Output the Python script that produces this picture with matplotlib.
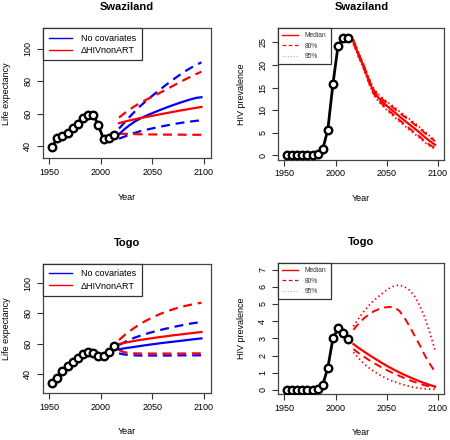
import matplotlib
matplotlib.use("Agg")
import matplotlib.pyplot as plt
from matplotlib.lines import Line2D

plt.rcParams['font.family'] = ['Liberation Sans', 'DejaVu Sans']

# ---------------- data ----------------
obs_years = [1952.5, 1957.5, 1962.5, 1967.5, 1972.5, 1977.5, 1982.5, 1987.5,
             1992.5, 1997.5, 2002.5, 2007.5, 2012.5]
proj_years = [2017.5, 2022.5, 2027.5, 2032.5, 2037.5, 2042.5, 2047.5, 2052.5,
              2057.5, 2062.5, 2067.5, 2072.5, 2077.5, 2082.5, 2087.5, 2092.5, 2097.5]

# Swaziland life expectancy
swz_le_obs = [39.4, 45.2, 46.6, 48.2, 51.3, 54.0, 57.5, 59.6, 59.6, 53.0, 44.5, 45.4, 47.0]
swz_nocov_med = [47.5, 50.5, 53.0, 55.2, 57.0, 58.5, 59.9, 61.2, 62.5, 63.7, 64.9, 66.0, 67.1, 68.1, 69.1, 69.9, 70.3]
swz_nocov_hi = [51.0, 54.5, 58.0, 61.3, 64.5, 67.3, 70.0, 72.6, 75.1, 77.6, 80.0, 82.3, 84.5, 86.6, 88.5, 90.2, 91.8]
swz_nocov_lo = [44.8, 46.0, 47.2, 48.3, 49.3, 50.1, 50.8, 51.5, 52.2, 52.8, 53.4, 54.0, 54.5, 55.0, 55.4, 55.8, 56.1]
swz_hiv_med = [54.4, 55.2, 56.0, 56.7, 57.4, 58.0, 58.6, 59.2, 59.8, 60.4, 61.0, 61.6, 62.2, 62.7, 63.3, 63.8, 64.3]
swz_hiv_hi = [57.8, 60.3, 62.6, 64.7, 66.6, 68.3, 69.9, 71.5, 73.1, 74.8, 76.5, 78.2, 79.9, 81.5, 83.1, 84.6, 86.0]
swz_hiv_lo = [47.9, 47.8, 47.7, 47.6, 47.5, 47.5, 47.4, 47.4, 47.4, 47.3, 47.3, 47.3, 47.3, 47.2, 47.2, 47.2, 47.2]

# Togo life expectancy
tgo_le_obs = [34.5, 37.4, 42.0, 45.3, 48.2, 50.8, 53.0, 54.3, 53.9, 51.7, 52.1, 54.4, 58.7]
tgo_nocov_med = [56.4, 57.0, 57.5, 58.0, 58.5, 59.0, 59.5, 59.9, 60.4, 60.8, 61.2, 61.6, 62.0, 62.4, 62.8, 63.2, 63.6]
tgo_nocov_hi = [59.2, 61.0, 62.6, 64.0, 65.2, 66.3, 67.3, 68.2, 69.1, 69.9, 70.7, 71.4, 72.1, 72.8, 73.4, 73.9, 74.3]
tgo_nocov_lo = [53.7, 53.0, 52.6, 52.4, 52.3, 52.3, 52.3, 52.3, 52.3, 52.3, 52.3, 52.4, 52.4, 52.4, 52.4, 52.4, 52.5]
tgo_hiv_med = [59.9, 60.6, 61.3, 61.9, 62.5, 63.0, 63.5, 64.0, 64.5, 64.9, 65.4, 65.8, 66.2, 66.6, 67.0, 67.4, 67.8]
tgo_hiv_hi = [62.5, 65.5, 68.2, 70.6, 72.8, 74.8, 76.6, 78.2, 79.7, 81.0, 82.2, 83.3, 84.2, 85.1, 85.8, 86.5, 87.1]
tgo_hiv_lo = [55.9, 54.5, 53.9, 53.7, 53.6, 53.6, 53.6, 53.6, 53.6, 53.6, 53.6, 53.6, 53.6, 53.6, 53.7, 53.7, 53.7]

# Swaziland HIV prevalence
swz_prev_obs = [0.0, 0.0, 0.0, 0.0, 0.0, 0.0, 0.37, 1.3, 5.7, 15.8, 24.3, 25.9, 26.0]
swz_prev_med = [25.2, 22.3, 19.7, 16.6, 14.0, 12.6, 11.5, 10.5, 9.6, 8.6, 7.7, 6.8, 5.9, 5.0, 4.0, 3.1, 2.3]
swz_prev_80hi = [25.5, 22.6, 20.0, 16.95, 14.4, 13.1, 12.1, 11.2, 10.35, 9.4, 8.55, 7.7, 6.8, 5.9, 4.9, 3.95, 3.1]
swz_prev_80lo = [24.9, 22.0, 19.4, 16.25, 13.6, 12.1, 10.9, 9.8, 8.85, 7.8, 6.85, 5.9, 5.0, 4.1, 3.1, 2.25, 1.6]
swz_prev_95hi = [25.7, 22.8, 20.2, 17.2, 14.7, 13.4, 12.4, 11.5, 10.7, 9.7, 8.85, 8.0, 7.1, 6.2, 5.2, 4.2, 3.4]
swz_prev_95lo = [24.7, 21.8, 19.2, 16.0, 13.3, 11.8, 10.6, 9.5, 8.5, 7.5, 6.55, 5.6, 4.7, 3.8, 2.8, 2.0, 1.4]

# Togo HIV prevalence
tgo_prev_obs = [0.0, 0.0, 0.0, 0.0, 0.0, 0.0, 0.05, 0.3, 1.3, 3.0, 3.58, 3.3, 2.96]
tgo_prev_med = [2.67, 2.45, 2.25, 2.05, 1.86, 1.68, 1.5, 1.33, 1.17, 1.02, 0.88, 0.75, 0.62, 0.5, 0.39, 0.29, 0.2]
tgo_prev_80hi = [3.5, 3.85, 4.15, 4.38, 4.57, 4.7, 4.79, 4.83, 4.8, 4.6, 4.2, 3.7, 3.15, 2.6, 2.0, 1.5, 1.05]
tgo_prev_80lo = [2.38, 2.15, 1.95, 1.75, 1.57, 1.4, 1.24, 1.09, 0.95, 0.82, 0.69, 0.57, 0.46, 0.36, 0.27, 0.2, 0.14]
tgo_prev_95hi = [3.7, 4.15, 4.55, 4.9, 5.2, 5.45, 5.7, 5.9, 6.05, 6.1, 6.0, 5.8, 5.45, 4.9, 4.2, 3.3, 2.3]
tgo_prev_95lo = [2.2, 1.85, 1.55, 1.3, 1.08, 0.9, 0.74, 0.6, 0.48, 0.38, 0.29, 0.21, 0.15, 0.1, 0.07, 0.05, 0.04]

le_ticks = [40, 60, 80, 100]
x_ticks = [1950, 2000, 2050, 2100]
swz_prev_ticks = [0, 5, 10, 15, 20, 25]
tgo_prev_ticks = [0, 1, 2, 3, 4, 5, 6, 7]

# ---------------- style ----------------
BLUE = '#0000FF'
RED = '#FF0000'
FS = 6.5
LW = 1.6
DASH = (4.0, 2.6)
DOT = (0.8, 1.6)

fig = plt.figure(figsize=(4.5, 4.4), dpi=100)
W, H = 450.0, 440.0


def make_ax(left, top, right, bottom):
    return fig.add_axes([left / W, 1 - bottom / H, (right - left) / W, (bottom - top) / H])


def style(ax, title, ylabel, yticks, xlim, ylim):
    ax.set_xlim(*xlim)
    ax.set_ylim(*ylim)
    ax.set_xticks(x_ticks)
    ax.set_yticks(yticks)
    ax.set_yticklabels([str(t) for t in yticks], rotation=90, va='center')
    ax.tick_params(direction='out', length=4, width=0.8, labelsize=FS, color='#333333', pad=3)
    ax.tick_params(axis='y', pad=4)
    for s in ax.spines.values():
        s.set_color('#444444')
        s.set_linewidth(0.9)
    ax.set_title(title, fontsize=8, fontweight='bold', pad=13)
    ax.set_xlabel('Year', fontsize=FS, labelpad=11)
    ax.set_ylabel(ylabel, fontsize=FS, labelpad=9)


def obs(ax, x, y):
    ax.plot(x, y, color='black', lw=2.0, zorder=3)
    ax.plot(x, y, linestyle='none', marker='o', markersize=5.4, markerfacecolor='white',
            markeredgecolor='black', markeredgewidth=1.7, zorder=4)


def le_panel(ax, title, obs_y, nm, nh, nl, hm, hh, hl, ylim):
    obs(ax, obs_years, obs_y)
    ax.plot(proj_years, nh, color=BLUE, lw=LW, dashes=DASH)
    ax.plot(proj_years, nl, color=BLUE, lw=LW, dashes=DASH)
    ax.plot(proj_years, hh, color=RED, lw=LW, dashes=DASH)
    ax.plot(proj_years, hl, color=RED, lw=LW, dashes=DASH)
    ax.plot(proj_years, nm, color=BLUE, lw=LW)
    ax.plot(proj_years, hm, color=RED, lw=LW)
    style(ax, title, 'Life expectancy', le_ticks, (1944, 2106.5), ylim)
    handles = [Line2D([], [], color=BLUE, lw=1.0), Line2D([], [], color=RED, lw=1.0)]
    leg = ax.legend(handles, ['No covariates', '\u0394HIVnonART'], loc='upper left',
                    fontsize=FS, frameon=True, fancybox=False, borderaxespad=0,
                    handlelength=2.6, handletextpad=1.0, borderpad=0.6, labelspacing=0.35)
    leg.get_frame().set_edgecolor('#333333')
    leg.get_frame().set_linewidth(0.9)
    leg.get_frame().set_alpha(1)


def prev_panel(ax, title, obs_y, med, h80, l80, h95, l95, yticks, ylim):
    obs(ax, obs_years, obs_y)
    ax.plot(proj_years, h95, color=RED, lw=1.3, dashes=DOT)
    ax.plot(proj_years, l95, color=RED, lw=1.3, dashes=DOT)
    ax.plot(proj_years, h80, color=RED, lw=1.4, dashes=DASH)
    ax.plot(proj_years, l80, color=RED, lw=1.4, dashes=DASH)
    ax.plot(proj_years, med, color=RED, lw=LW)
    style(ax, title, 'HIV prevalence', yticks, (1944, 2106.5), ylim)
    handles = [Line2D([], [], color=RED, lw=1.0),
               Line2D([], [], color=RED, lw=0.9, dashes=(3, 2)),
               Line2D([], [], color='#FF9999', lw=0.8, dashes=(1, 1.5))]
    leg = ax.legend(handles, ['Median', '80%', '95%'], loc='upper left',
                    fontsize=4.8, frameon=True, fancybox=False, borderaxespad=0,
                    handlelength=2.3, handletextpad=1.1, borderpad=0.6, labelspacing=0.55)
    leg.get_frame().set_edgecolor('#333333')
    leg.get_frame().set_linewidth(0.9)
    leg.get_frame().set_alpha(1)
    for t in leg.get_texts():
        t.set_color('#333333')


ax1 = make_ax(43.3, 28.5, 210.7, 158.5)
le_panel(ax1, 'Swaziland', swz_le_obs, swz_nocov_med, swz_nocov_hi, swz_nocov_lo,
         swz_hiv_med, swz_hiv_hi, swz_hiv_lo, (32.6, 112.6))

ax2 = make_ax(278.3, 28.0, 444.3, 159.5)
prev_panel(ax2, 'Swaziland', swz_prev_obs, swz_prev_med, swz_prev_80hi, swz_prev_80lo,
           swz_prev_95hi, swz_prev_95lo, swz_prev_ticks, (-0.95, 28.2))

ax3 = make_ax(43.3, 264.0, 210.7, 393.0)
le_panel(ax3, 'Togo', tgo_le_obs, tgo_nocov_med, tgo_nocov_hi, tgo_nocov_lo,
         tgo_hiv_med, tgo_hiv_hi, tgo_hiv_lo, (27.6, 112.6))

ax4 = make_ax(278.3, 263.0, 444.3, 394.3)
prev_panel(ax4, 'Togo', tgo_prev_obs, tgo_prev_med, tgo_prev_80hi, tgo_prev_80lo,
           tgo_prev_95hi, tgo_prev_95lo, tgo_prev_ticks, (-0.25, 7.38))

fig.savefig('out.png', dpi=100, facecolor='white')
